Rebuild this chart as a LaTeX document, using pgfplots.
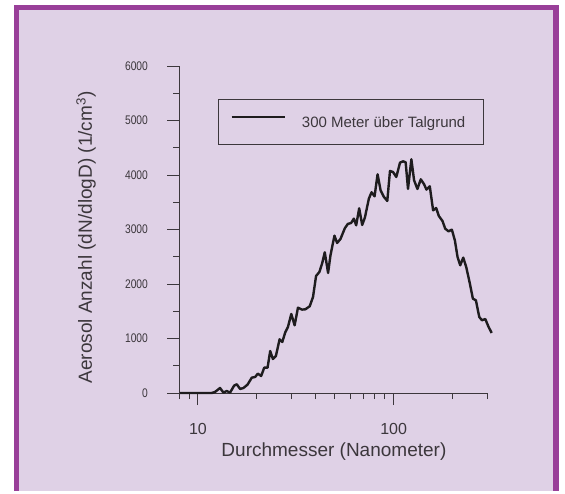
\documentclass[border=0pt]{standalone}
\usepackage{fontspec}
\setmainfont{Liberation Sans}
\newfontfamily\narrowfont[FakeStretch=0.82]{Liberation Sans}
\usepackage{pgfplots}
\pgfplotsset{compat=1.18}
\definecolor{bgpurple}{RGB}{223,209,230}
\definecolor{framecol}{RGB}{153,63,153}
\definecolor{axgray}{RGB}{60,55,60}
\definecolor{curvecol}{RGB}{30,28,30}
\begin{document}
\begin{tikzpicture}[x=1pt,y=1pt]
\fill[white] (0,0) rectangle (565,491);
\fill[bgpurple] (16.5,0) rectangle (556.2,483.5);
\draw[framecol, line width=5.5pt] (16.5,0) -- (16.5,483.5) -- (556.2,483.5) -- (556.2,0);
\begin{axis}[
  at={(179pt,98pt)}, anchor=south west,
  scale only axis, width=308pt, height=327pt,
  xmode=log, xmin=8, xmax=300, ymin=0, ymax=6000,
  axis x line*=bottom, axis y line*=left,
  axis line style={axgray, line width=1pt},
  every tick/.style={axgray, line width=1pt},
  tick align=outside,
  major tick length=12pt, minor tick length=6pt,
  xtick={10,100}, xticklabels={10,100},
  minor xtick={8,9,20,30,40,50,60,70,80,90,200,300},
  ytick={0,1000,2000,3000,4000,5000,6000},
  yticklabels={0,1000,2000,3000,4000,5000,6000},
  minor ytick={500,1500,2500,3500,4500,5500},
  yticklabel style={font=\narrowfont\fontsize{12.5}{12.5}\selectfont, text=axgray, anchor=east, inner sep=0pt, xshift=-19pt},
  xticklabel style={font=\fontsize{16}{16}\selectfont, text=axgray, anchor=north, inner sep=0pt, yshift=-18pt},
  xlabel={Durchmesser (Nanometer)},
  ylabel={Aerosol Anzahl (dN/dlogD) (1/cm\textsuperscript{3})},
  xlabel style={font=\fontsize{19}{19}\selectfont, text=axgray, at={(axis description cs:0.503,-0.193)}, anchor=base},
  ylabel style={font=\fontsize{19}{19}\selectfont, text=axgray, at={(axis description cs:-0.283,0.4755)}, anchor=base},
  legend style={at={(axis description cs:0.127,0.899)}, anchor=north west, draw=axgray, line width=0.8pt, fill=none,
     inner xsep=12pt, inner ysep=16.5pt,
     nodes={inner sep=0pt, text depth=0pt, font=\fontsize{15}{15}\selectfont, text=axgray}},
  legend image code/.code={\draw[curvecol, line width=2.4pt] (0pt,5pt) -- (53pt,5pt);},
  /tikz/every odd column/.style={column sep=16pt},
  clip=false,
]
\addplot[curvecol, line width=2.4pt, line join=round] coordinates {
(8.08,0) (9,0) (10,0) (11,0) (11.75,0)
(12.22,19) (12.97,92) (13.49,7) (14.03,37) (14.59,7) (15.30,135) (15.79,160)
(16.42,74) (17.08,92) (17.91,153) (18.85,282) (19.60,294) (20.23,355) (21.04,312)
(21.81,465) (22.68,465) (23.40,771) (24.15,624) (25.02,680) (26.13,985) (26.97,936)
(27.94,1114) (28.83,1212) (29.99,1450) (31.19,1242) (32.44,1566) (34.01,1530)
(35.38,1536) (37.24,1591) (38.73,1762) (40.13,2147) (41.74,2221) (43.08,2374)
(44.46,2582) (46.24,2203) (47.53,2521) (49.83,2887) (51.42,2753) (53.49,2826)
(56.29,3022) (58.32,3102) (60.66,3120) (62.60,3199) (64.35,3077) (66.67,3389)
(69.08,3083) (71.29,3218) (74.73,3567) (77.12,3683) (79.91,3609) (82.78,4013)
(85.77,3719) (89.22,3597) (92.80,3524) (95.78,4074) (99.22,4055) (103.2,3964)
(107.8,4227) (111.7,4251) (115.2,4233) (118.4,3744) (123.2,4288) (127.2,3903)
(132.3,3744) (137.6,3921) (143.1,3830) (147.1,3732) (153.0,3793) (159.1,3352)
(164.9,3395) (170.2,3248) (177.7,3156) (183.4,3016) (190.7,2967) (198.4,2997)
(205.5,2802) (212.1,2496) (218.9,2343) (226.8,2484) (234.9,2312) (245.3,2006)
(254.1,1731) (263.3,1700) (273.9,1395) (282.7,1334) (294.0,1358) (304.6,1224)
(316.9,1101)
};
\addlegendentry{300 Meter über Talgrund\hspace*{6pt}}
\end{axis}
\end{tikzpicture}
\end{document}
